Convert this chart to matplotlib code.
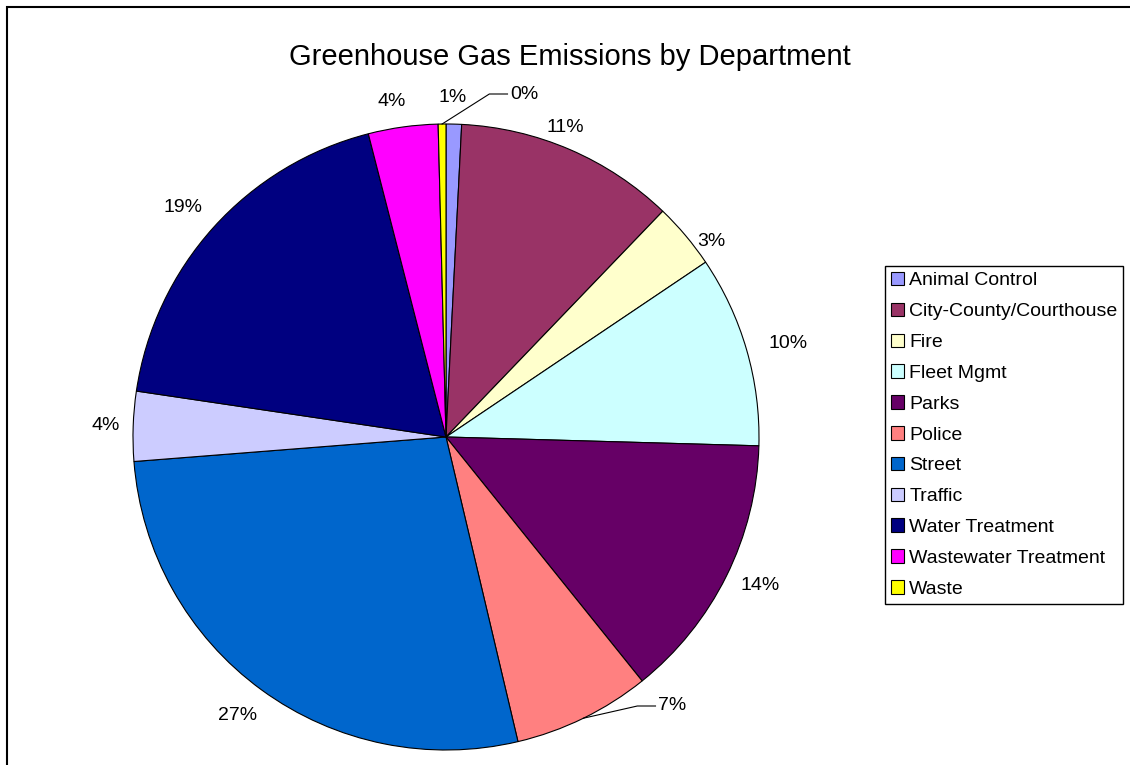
import numpy as np
import matplotlib
matplotlib.use("Agg")
import matplotlib.pyplot as plt
from matplotlib.patches import Rectangle

plt.rcParams['font.family'] = ['Liberation Sans', 'DejaVu Sans']

# data (percent of total)
departments = ["Animal Control", "City-County/Courthouse", "Fire", "Fleet Mgmt",
               "Parks", "Police", "Street", "Traffic", "Water Treatment",
               "Wastewater Treatment", "Waste"]
shares = [0.8, 11.4, 3.4, 9.9, 13.8, 7.1, 27.5, 3.6, 18.7, 3.6, 0.4]
colors = ["#9999FF", "#993366", "#FFFFCC", "#CCFFFF", "#660066", "#FF8080",
          "#0066CC", "#CCCCFF", "#000080", "#FF00FF", "#FFFF00"]
title = "Greenhouse Gas Emissions by Department"

W, H = 1130, 765
fig = plt.figure(figsize=(W / 100, H / 100), dpi=100)

# pie axes: centre (446, 437) px, radius 313 px
cx, cy, r = 446, 437, 313
ax = fig.add_axes([(cx - r) / W, (H - cy - r) / H, 2 * r / W, 2 * r / H])

# where Excel put each percent label (pixel centres; waste/police are left edges)
label_px = [(453, 97), (565, 127), (711, 242), (788, 344), (760, 586),
            (658, 706), (238, 716), (106, 426), (183, 208), (392, 101),
            (510, 94)]
leader = {"Waste", "Police"}

pcts = ["%d%%" % round(v / sum(shares) * 100) for v in shares]
wedges, texts = ax.pie(shares, colors=colors, labels=pcts, startangle=90,
                       counterclock=False, labeldistance=1.06,
                       wedgeprops=dict(edgecolor="black", linewidth=0.8),
                       textprops=dict(fontsize=14, color="black"))
ax.set_xlim(-1, 1)
ax.set_ylim(-1, 1)
ax.set_aspect("equal")

for i, t in enumerate(texts):
    tx = (label_px[i][0] - cx) / r
    ty = (cy - label_px[i][1]) / r
    t.set_position((tx, ty))
    t.set_va("center")
    if departments[i] in leader:
        # small slices get a leader line from the arc
        t.set_ha("left")
        w = wedges[i]
        mid = np.deg2rad((w.theta1 + w.theta2) / 2)
        ax.plot([np.cos(mid), tx - 0.066, tx - 0.008], [np.sin(mid), ty, ty],
                color="black", linewidth=0.8, clip_on=False)
    else:
        t.set_ha("center")

fig.legend(handles=wedges, labels=departments, loc="upper left",
           bbox_to_anchor=(885 / W, 1 - 266 / H), borderaxespad=0,
           fontsize=14, frameon=True, fancybox=False, edgecolor="black",
           framealpha=1, handlelength=0.7, handleheight=0.7,
           handletextpad=0.25, borderpad=0.3, labelspacing=0.68)

fig.text(570 / W, 1 - 57 / H, title, ha="center", va="center", fontsize=21)

# chart border (clipped on the right and bottom)
fig.add_artist(Rectangle((6.5 / W, -0.05), 1.1, 1 - 7.5 / H + 0.05,
                         transform=fig.transFigure, fill=False,
                         edgecolor="black", linewidth=1.5))

fig.savefig("out.png", dpi=100)
